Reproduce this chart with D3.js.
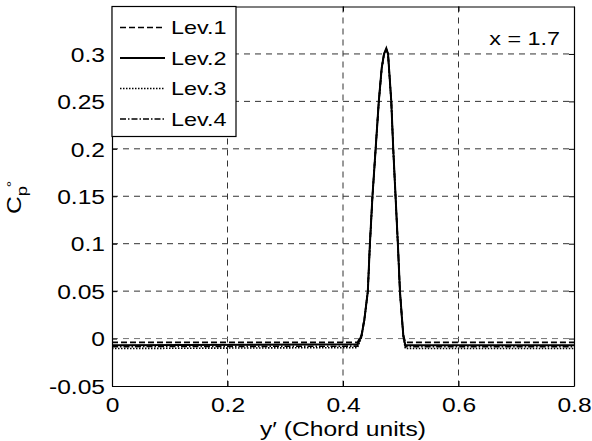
<!DOCTYPE html>
<html>
<head>
<meta charset="utf-8">
<script src="https://cdn.jsdelivr.net/npm/d3@7"></script>
<style>
  body { margin: 0; background: #fff; }
  text { font-family: "Liberation Sans", Arial, sans-serif; }
</style>
</head>
<body>
<div id="chart-area"></div>
<script>
// chordwise position y' and Cp values for each refinement level
var yPos = [0, 0.425, 0.432, 0.437, 0.443, 0.4466, 0.451, 0.4565, 0.462, 0.467, 0.471, 0.475, 0.478, 0.4836, 0.487, 0.491, 0.495, 0.4986, 0.502, 0.5045, 0.508, 0.8];
var lev1 = [-0.004, -0.004, 0.004, 0.021, 0.05, 0.1, 0.15, 0.2, 0.25, 0.285, 0.3, 0.305, 0.3, 0.25, 0.2, 0.15, 0.1, 0.05, 0.023, 0.004, -0.004, -0.004];
var lev2 = [-0.007, -0.006, 0.003, 0.02, 0.05, 0.1, 0.15, 0.2, 0.25, 0.285, 0.3, 0.306, 0.3, 0.25, 0.2, 0.15, 0.1, 0.05, 0.022, 0.003, -0.007, -0.007];
var lev3 = [-0.0105, -0.0095, 0.001, 0.019, 0.049, 0.099, 0.149, 0.199, 0.249, 0.284, 0.299, 0.304, 0.299, 0.249, 0.199, 0.149, 0.099, 0.049, 0.021, 0.001, -0.0105, -0.0105];
var lev4 = [-0.0085, -0.008, 0.002, 0.02, 0.05, 0.1, 0.15, 0.2, 0.25, 0.285, 0.3, 0.305, 0.3, 0.25, 0.2, 0.15, 0.1, 0.05, 0.022, 0.002, -0.0085, -0.0085];
var levNames = ['Lev.1', 'Lev.2', 'Lev.3', 'Lev.4'];
var levDash = ['6,3', null, '1.5,1.5', '6,2,1.5,2'];
var xTicks = [0, 0.2, 0.4, 0.6, 0.8];
var yTicks = [-0.05, 0, 0.05, 0.1, 0.15, 0.2, 0.25, 0.3];
var annotation = 'x = 1.7';

var margin = { top: 6.5, right: 18, bottom: 55, left: 112 };
var width = 592 - margin.left - margin.right;
var height = 441 - margin.top - margin.bottom;
var sx = 1.23; // glyphs in the original are drawn wider than Arial

// widen a text horizontally around its own anchor x
function stretch(sel) {
    sel.each(function () {
        var ax = +(this.getAttribute('x') || 0);
        d3.select(this).attr('transform', 'translate(' + ax + ',0) scale(' + sx + ',1) translate(' + (-ax) + ',0)');
    });
}

var svg = d3.select('#chart-area')
    .append('svg')
    .attr('width', 592)
    .attr('height', 441);
var graph = svg.append('g')
    .attr('transform', 'translate(' + margin.left + ',' + margin.top + ')');

var x = d3.scaleLinear().domain([0, 0.8]).range([0, width]);
var y = d3.scaleLinear().domain([-0.05, 0.35]).range([height, 0]);

// grid
graph.selectAll('.vgrid').data(xTicks.slice(1, -1)).enter().append('line')
    .attr('x1', function (d) { return x(d); }).attr('x2', function (d) { return x(d); })
    .attr('y1', 0).attr('y2', height)
    .attr('stroke', '#333').attr('stroke-width', 1).attr('stroke-dasharray', '6,5');
graph.selectAll('.hgrid').data(yTicks.slice(1)).enter().append('line')
    .attr('x1', 0).attr('x2', width)
    .attr('y1', function (d) { return y(d); }).attr('y2', function (d) { return y(d); })
    .attr('stroke', function (d) { return d === 0 ? '#777' : '#333'; })
    .attr('stroke-width', 1).attr('stroke-dasharray', '6,5');

// curves
var line = d3.line()
    .x(function (d) { return x(d[0]); })
    .y(function (d) { return y(d[1]); });
[lev1, lev2, lev3, lev4].forEach(function (vals, i) {
    graph.append('path')
        .datum(yPos.map(function (p, j) { return [p, vals[j]]; }))
        .attr('d', line)
        .attr('fill', 'none')
        .attr('stroke', '#000')
        .attr('stroke-width', i === 1 ? 2 : 1.6)
        .attr('stroke-dasharray', levDash[i]);
});

// axes with inward ticks, box all round
var fmt = function (d) { return d3.format('~g')(d).replace('\u2212', '-'); };
var xAxis = d3.axisBottom(x).tickValues(xTicks).tickSize(-5).tickSizeOuter(0).tickFormat(fmt);
var yAxis = d3.axisLeft(y).tickValues(yTicks).tickSize(-5).tickSizeOuter(0).tickFormat(fmt);
var gx = graph.append('g').attr('transform', 'translate(0,' + height + ')').call(xAxis);
var gy = graph.append('g').call(yAxis);
graph.append('g').call(d3.axisTop(x).tickValues(xTicks).tickSize(-5).tickSizeOuter(0).tickFormat(''));
graph.append('g').attr('transform', 'translate(' + width + ',0)')
    .call(d3.axisRight(y).tickValues(yTicks).tickSize(-5).tickSizeOuter(0).tickFormat(''));
graph.selectAll('.domain').attr('stroke', '#000').attr('stroke-width', 1.2);
graph.selectAll('.tick line').attr('stroke', '#000');
graph.selectAll('.tick text').attr('font-size', 20).attr('fill', '#000')
    .attr('font-family', '"Liberation Sans", Arial, sans-serif');
gx.selectAll('.tick text').attr('y', 26).attr('dy', 0);
gy.selectAll('.tick text').attr('x', -7).attr('dy', '0.36em');
stretch(graph.selectAll('.tick text'));

// axis labels
svg.append('text')
    .attr('x', margin.left + width / 2).attr('y', 436)
    .attr('text-anchor', 'middle').attr('font-size', 20)
    .text('y\u2032 (Chord units)')
    .call(stretch);
var yl = svg.append('text')
    .attr('transform', 'translate(21,214) rotate(-90) scale(' + sx + ',1)')
    .attr('font-size', 20);
yl.append('tspan').text('C');
yl.append('tspan').attr('font-size', 15).attr('dy', 6).text('p');
yl.append('tspan').attr('font-size', 13).attr('dy', -11).attr('dx', -1).text('\u00b0');

// annotation
graph.append('text')
    .attr('x', 448).attr('y', 39)
    .attr('text-anchor', 'end').attr('font-size', 19)
    .text(annotation)
    .call(stretch);

// legend
var lg = graph.append('g');
lg.append('rect').attr('x', 0).attr('y', 0).attr('width', 124).attr('height', 130)
    .attr('fill', '#fff').attr('stroke', '#000').attr('stroke-width', 1.2);
levNames.forEach(function (name, i) {
    var cy = 21 + i * 30.5;
    lg.append('line').attr('x1', 8).attr('x2', 53).attr('y1', cy).attr('y2', cy)
        .attr('stroke', '#000').attr('stroke-width', i === 1 ? 2 : 1.6)
        .attr('stroke-dasharray', levDash[i]);
    lg.append('text').attr('x', 59).attr('y', cy + 7).attr('font-size', 19).text(name)
        .call(stretch);
});
</script>
</body>
</html>
